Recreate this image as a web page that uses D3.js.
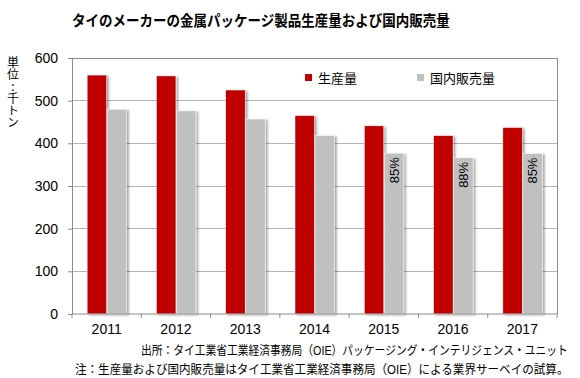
<!DOCTYPE html>
<html><head><meta charset="utf-8">
<script src="https://cdn.jsdelivr.net/npm/d3@7"></script>
<style>body{margin:0;background:#fff}svg{display:block}</style>
</head><body><svg id="c" width="580" height="378"></svg>
<script>
const years = ["2011","2012","2013","2014","2015","2016","2017"];
const production = [560, 558, 525, 465, 441, 418, 437];
const domestic = [480, 476, 457, 418, 377, 366, 376];
const shareLabels = [null, null, null, null, "85%", "88%", "85%"];
const yTicks = [0, 100, 200, 300, 400, 500, 600];
const seriesNames = ["生産量", "国内販売量"];
const title = "タイのメーカーの金属パッケージ製品生産量および国内販売量";
const yLabel = "単位:千トン";
const notes = ["出所：タイ工業省工業経済事務局（OIE）パッケージング・インテリジェンス・ユニット",
               "注：生産量および国内販売量はタイ工業省工業経済事務局（OIE）による業界サーベイの試算。"];

const svg = d3.select("#c");
const font = "Arial, 'Liberation Sans', 'Noto Sans CJK JP', sans-serif";
const m = {l:72, r:557, t:58, b:314};
const x = d3.scaleBand().domain(years).range([m.l, m.r]);
const y = d3.scaleLinear().domain([0, 600]).range([m.b, m.t]);
const colors = ["#c00000", "#c0c0c0"];

// place text so its left edge is at x0 and width equals target, scaling horizontally
function squeeze(g, x0, target) {
  const t = g.select("text");
  const w = t.node().getComputedTextLength();
  const s = target / w;
  g.attr("transform", `translate(${x0},0) scale(${s},1)`);
}

const defs = svg.append("defs");
const f = defs.append("filter").attr("id","sh").attr("x","-20%").attr("y","-5%").attr("width","150%").attr("height","120%");
f.append("feDropShadow").attr("dx",2).attr("dy",1).attr("stdDeviation",0.8).attr("flood-color","#000").attr("flood-opacity",0.35);

// title
const tg = svg.append("g");
tg.append("text").attr("x",0).attr("y",26)
  .attr("font-family",font).attr("font-size",15).attr("font-weight","bold").text(title);
squeeze(tg, 72, 378);

// gridlines
svg.append("g").selectAll("line").data(yTicks.filter(d=>d>0 && d<600)).join("line")
  .attr("x1",m.l).attr("x2",m.r).attr("y1",d=>y(d)).attr("y2",d=>y(d))
  .attr("stroke","#b4b4b4").attr("stroke-width",1).attr("shape-rendering","crispEdges");
svg.append("path").attr("d",`M${m.l},${m.t}H${m.r}V${m.b}`).attr("fill","none")
  .attr("stroke","#8c8c8c").attr("shape-rendering","crispEdges");

// bars
const bw = 19.5;
const g = svg.append("g");
years.forEach((yr,i)=>{
  const cx = x(yr) + x.bandwidth()/2;
  g.append("rect").attr("x",cx-bw).attr("width",bw).attr("y",y(production[i])).attr("height",y(0)-y(production[i]))
    .attr("fill",colors[0]).attr("stroke","#fff").attr("stroke-width",0.5).attr("filter","url(#sh)");
  g.append("rect").attr("x",cx+0.5).attr("width",bw).attr("y",y(domestic[i])).attr("height",y(0)-y(domestic[i]))
    .attr("fill",colors[1]).attr("stroke","#fff").attr("stroke-width",0.5).attr("filter","url(#sh)");
  if (shareLabels[i]) {
    const tx = cx + 0.5 + bw/2, ty = y(domestic[i]) + 4;
    g.append("text").attr("transform",`translate(${tx},${ty}) rotate(-90)`)
      .attr("text-anchor","end").attr("dy","0.35em")
      .attr("font-family",font).attr("font-size",13).attr("fill","#000").text(shareLabels[i]);
  }
});

// y axis
const ya = svg.append("g").attr("transform",`translate(${m.l},0)`)
  .call(d3.axisLeft(y).tickValues(yTicks).tickSize(4).tickPadding(10));
ya.select(".domain").attr("stroke","#8c8c8c");
ya.selectAll(".tick line").attr("stroke","#8c8c8c");
ya.selectAll("text").attr("font-family",font).attr("font-size",14).attr("fill","#000");

// x axis
const xa = svg.append("g").attr("transform",`translate(0,${m.b})`)
  .call(d3.axisBottom(x).tickSize(0).tickPadding(10));
xa.select(".domain").attr("stroke","#8c8c8c").attr("d",`M${m.l},0H${m.r}`);
xa.selectAll("text").attr("font-family",font).attr("font-size",14).attr("fill","#000");
xa.selectAll("line.b").data(d3.range(years.length+1)).join("line").attr("class","b")
  .attr("x1",i=>m.l+i*x.bandwidth()).attr("x2",i=>m.l+i*x.bandwidth()).attr("y1",0).attr("y2",4)
  .attr("stroke","#8c8c8c");

// y label vertical
svg.append("text").attr("x",13).attr("y",56)
  .style("writing-mode","vertical-rl").style("text-orientation","upright")
  .attr("font-family","'Noto Sans CJK JP', sans-serif").attr("font-size",12).text(yLabel);

// legend
const lg = svg.append("g");
[[308,318],[420,430]].forEach((p,i)=>{
  lg.append("rect").attr("x",p[0]-3).attr("y",74).attr("width",7).attr("height",7).attr("fill",colors[i]);
  lg.append("text").attr("x",p[1]).attr("y",82.5).attr("font-family",font).attr("font-size",13).text(seriesNames[i]);
});

// notes
const n1 = svg.append("g");
n1.append("text").attr("x",0).attr("y",355).attr("font-family",font).attr("font-size",12.5).text(notes[0]);
squeeze(n1, 141, 427);
const n2 = svg.append("g");
n2.append("text").attr("x",0).attr("y",374).attr("font-family",font).attr("font-size",12.5).text(notes[1]);
squeeze(n2, 75, 494);
</script></body></html>
